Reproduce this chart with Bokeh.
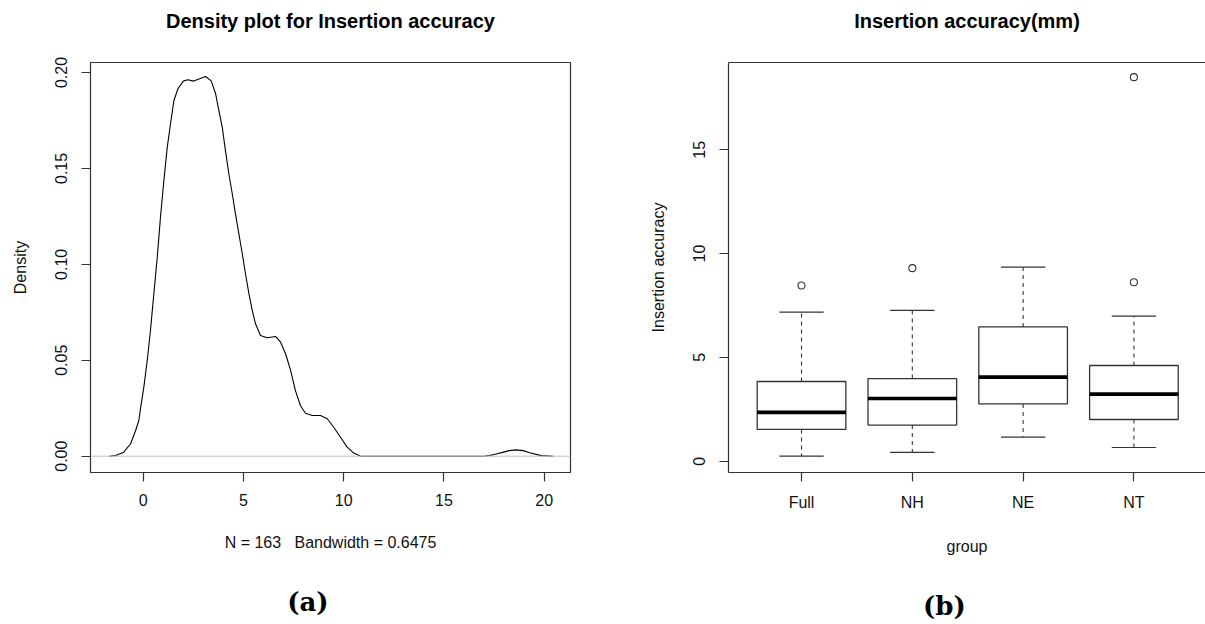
from bokeh.plotting import figure
from bokeh.layouts import row
from bokeh.models import Range1d, FixedTicker, Span, LinearAxis, NumeralTickFormatter
from bokeh.embed import file_html
from bokeh.resources import INLINE

# ---------------- data ----------------
# kernel density estimate of insertion accuracy
dens_x = [-1.69, -1.38, -0.97, -0.63, -0.38, -0.22, -0.10, 0.03, 0.20, 0.36, 0.53, 0.70,
          0.86, 1.03, 1.20, 1.36, 1.53, 1.73, 2.00, 2.22, 2.52, 2.81, 3.11, 3.39, 3.61,
          3.77, 3.94, 4.10, 4.27, 4.44, 4.60, 4.77, 4.94, 5.10, 5.27, 5.44, 5.60, 5.85,
          6.18, 6.60, 6.85, 7.10, 7.35, 7.59, 7.84, 8.09, 8.43, 8.84, 9.18, 9.50, 9.84,
          10.17, 10.50, 10.84, 11.5, 17.0, 17.27, 17.6, 17.93, 18.25, 18.6, 18.95, 19.27,
          19.85, 20.44]
dens_y = [0.0, 0.0004, 0.0021, 0.0065, 0.0134, 0.0186, 0.0273, 0.0360, 0.0499, 0.0655,
          0.0846, 0.1037, 0.1246, 0.1437, 0.1611, 0.1733, 0.1854, 0.1915, 0.1955, 0.1962,
          0.1955, 0.1967, 0.1979, 0.1956, 0.1889, 0.1802, 0.1715, 0.1593, 0.1472, 0.1368,
          0.1263, 0.1159, 0.1055, 0.0951, 0.0847, 0.0759, 0.0690, 0.0629, 0.0617, 0.0624,
          0.0594, 0.0534, 0.0447, 0.0342, 0.0264, 0.0224, 0.0212, 0.0212, 0.0195, 0.0151,
          0.0099, 0.0047, 0.0016, 0.0, 0.0, 0.0, 0.0004, 0.0011, 0.0020, 0.0029, 0.0033,
          0.0029, 0.0018, 0.0003, 0.0]
dens_xticks = [0, 5, 10, 15, 20]
dens_yticks = [0.0, 0.05, 0.10, 0.15, 0.20]

groups = ["Full", "NH", "NE", "NT"]
whisk_lo = [0.24, 0.43, 1.16, 0.66]
q1 = [1.53, 1.74, 2.76, 2.01]
med = [2.35, 3.02, 4.05, 3.23]
q3 = [3.84, 3.98, 6.47, 4.61]
whisk_hi = [7.18, 7.27, 9.35, 6.99]
out_group = ["Full", "NH", "NT", "NT"]
out_val = [8.46, 9.30, 8.62, 18.50]
box_yticks = [0, 5, 10, 15]

FONT = "Liberation Sans"
INK = "#111111"
EDGE = "#333333"
NB = "\u00a0"


def text_axis(label, font, size, standoff, line=None):
    """An axis without ticks whose label serves as title / caption."""
    ax = LinearAxis(ticker=FixedTicker(ticks=[]), major_tick_out=0, major_tick_in=0,
                    minor_tick_out=0, minor_tick_in=0, major_label_text_font_size="0px",
                    major_label_standoff=0, axis_label=label, axis_label_standoff=standoff,
                    axis_label_text_font=font, axis_label_text_font_style="bold",
                    axis_label_text_font_size=size, axis_label_text_color="black")
    if line is None:
        ax.axis_line_color = None
    else:
        ax.axis_line_color = line
        ax.axis_line_width = 1.2
    return ax


# ---------------- left: density ----------------
pL = figure(width=603, height=624, x_range=Range1d(-2.63, 21.31), y_range=Range1d(-0.0085, 0.2052),
            output_backend="svg", toolbar_location=None,
            min_border_left=90, min_border_right=33, min_border_top=62, min_border_bottom=152)

pL.line(dens_x, dens_y, line_color="black", line_width=1.1, line_join="round")
pL.add_layout(Span(location=0, dimension="width", line_color="#bebebe", line_width=1))

xL, yL = pL.below[0], pL.left[0]
xL.ticker = FixedTicker(ticks=dens_xticks)
yL.ticker = FixedTicker(ticks=dens_yticks)
yL.formatter = NumeralTickFormatter(format="0.00")
xL.axis_label = "N = 163" + NB * 3 + "Bandwidth = 0.6475"
yL.axis_label = "Density"
pL.outline_line_color = EDGE
pL.outline_line_width = 1.2
xL.axis_line_color = None
yL.axis_line_color = None

pL.add_layout(text_axis("Density plot for Insertion accuracy", FONT, "20px", 31), "above")
pL.add_layout(text_axis("(a)" + NB * 5, "DejaVu Serif", "26px", 33), "below")

# ---------------- right: boxplot ----------------
pR = figure(width=602, height=624, x_range=Range1d(0.341, 4.646), y_range=Range1d(-0.544, 19.205),
            output_backend="svg", toolbar_location=None,
            min_border_left=125, min_border_right=0, min_border_top=62, min_border_bottom=152)

pos = [i + 1 for i in range(len(groups))]
gpos = {g: i + 1 for i, g in enumerate(groups)}
out_pos = [gpos[g] for g in out_group]
BW = 0.8
CAP = 0.4

# whiskers (dashed)
pR.segment(x0=pos, y0=q3, x1=pos, y1=whisk_hi, line_color=EDGE, line_width=1.1, line_dash="4 4")
pR.segment(x0=pos, y0=q1, x1=pos, y1=whisk_lo, line_color=EDGE, line_width=1.1, line_dash="4 4")
# caps
pR.segment(x0=[p - CAP / 2 for p in pos], y0=whisk_hi, x1=[p + CAP / 2 for p in pos], y1=whisk_hi,
           line_color=EDGE, line_width=1.2)
pR.segment(x0=[p - CAP / 2 for p in pos], y0=whisk_lo, x1=[p + CAP / 2 for p in pos], y1=whisk_lo,
           line_color=EDGE, line_width=1.2)
# boxes
pR.vbar(x=pos, width=BW, bottom=q1, top=q3, fill_color="white", line_color=EDGE, line_width=1.3)
# medians
pR.segment(x0=[p - BW / 2 for p in pos], y0=med, x1=[p + BW / 2 for p in pos], y1=med,
           line_color="black", line_width=3.6)
# outliers
pR.scatter(x=out_pos, y=out_val, marker="circle", size=7, fill_color=None,
           line_color=EDGE, line_width=1.1)

xR, yR = pR.below[0], pR.left[0]
xR.ticker = FixedTicker(ticks=pos)
xR.major_label_overrides = {p: g for p, g in zip(pos, groups)}
yR.ticker = FixedTicker(ticks=box_yticks)
xR.axis_label = "group"
yR.axis_label = "Insertion accuracy"
pR.outline_line_color = None
xR.axis_line_color = EDGE
yR.axis_line_color = EDGE
xR.axis_line_width = 1.2
yR.axis_line_width = 1.2

pR.add_layout(text_axis("Insertion accuracy(mm)", FONT, "20px", 31, line=EDGE), "above")
pR.add_layout(text_axis("(b)" + NB * 5, "DejaVu Serif", "26px", 33), "below")

# ---------------- shared styling ----------------
for p, xa, ya in ((pL, xL, yL), (pR, xR, yR)):
    p.grid.visible = False
    p.background_fill_color = "white"
    p.border_fill_color = "white"
    for ax in (xa, ya):
        ax.major_tick_out = 9
        ax.major_tick_in = 0
        ax.minor_tick_out = 0
        ax.minor_tick_in = 0
        ax.major_tick_line_color = EDGE
        ax.major_tick_line_width = 1.2
        ax.major_label_text_font = FONT
        ax.major_label_text_font_size = "16px"
        ax.major_label_text_color = INK
        ax.axis_label_text_font = FONT
        ax.axis_label_text_font_style = "normal"
        ax.axis_label_text_font_size = "16px"
        ax.axis_label_text_color = INK
    ya.major_label_orientation = "vertical"
    ya.major_label_standoff = 14
    ya.axis_label_standoff = 24
    xa.major_label_standoff = 12
xL.axis_label_standoff = 25
xR.axis_label_standoff = 24

layout = row(pL, pR, spacing=0)
open("out.html", "w").write(file_html(layout, INLINE))
